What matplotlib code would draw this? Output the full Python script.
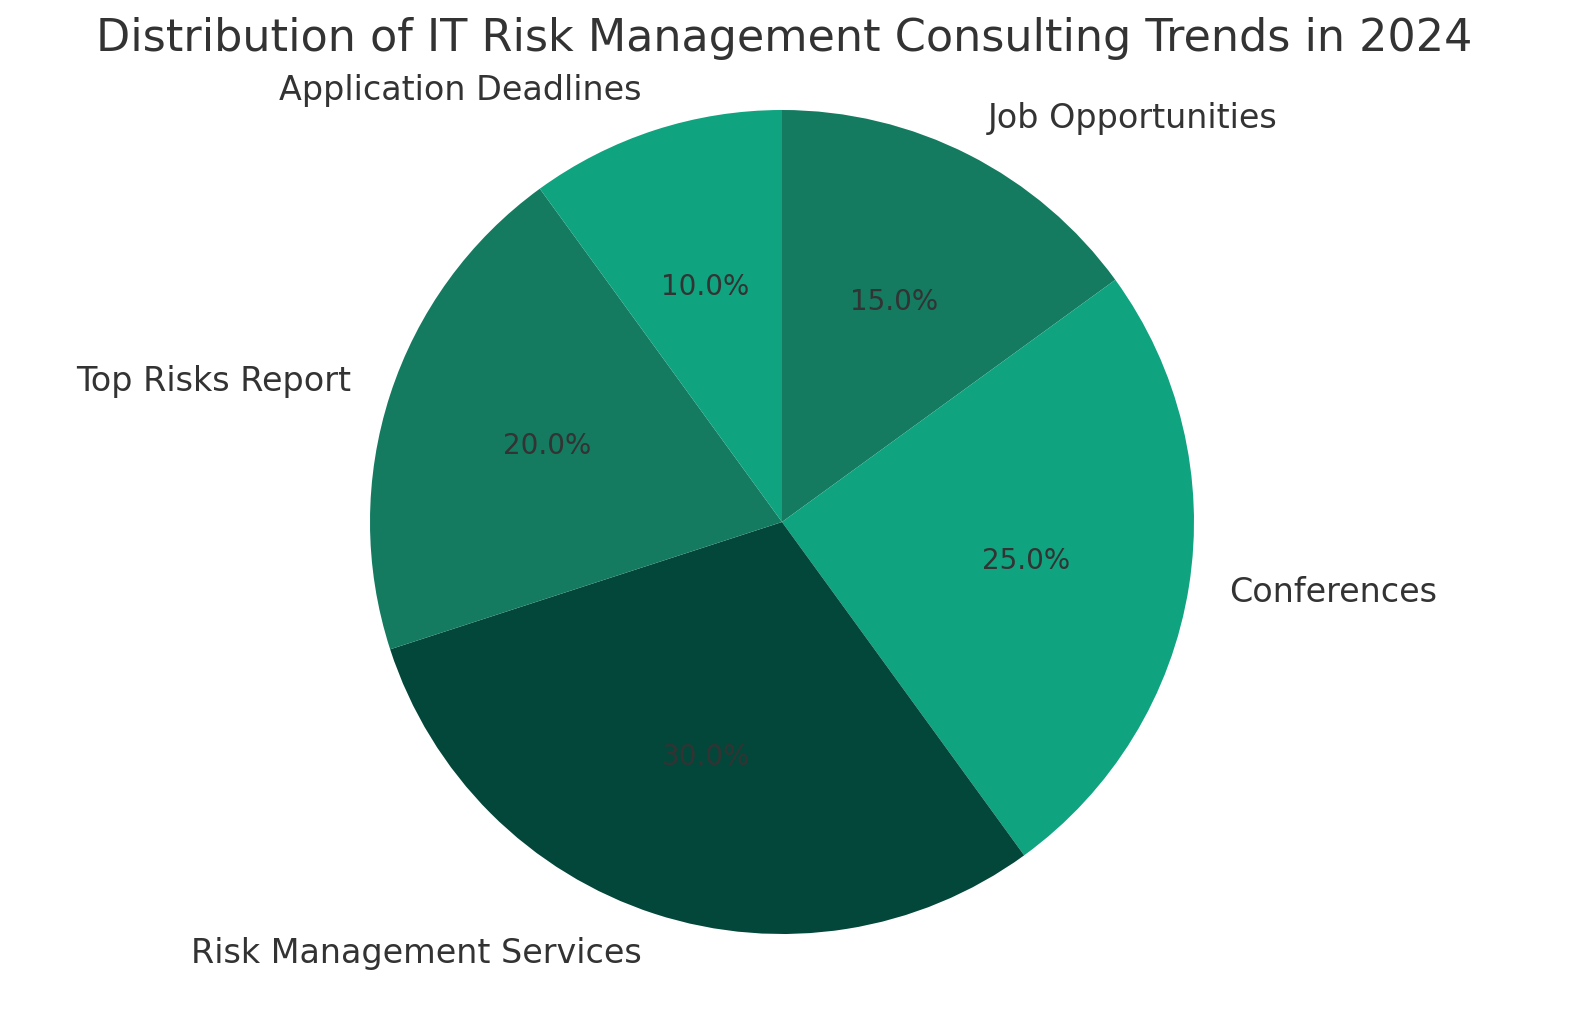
import matplotlib
matplotlib.use("Agg")
from matplotlib import pyplot as plt

# Slice data, clockwise from the top
labels = ["Job Opportunities", "Conferences", "Risk Management Services",
          "Top Risks Report", "Application Deadlines"]
shares = [15, 25, 30, 20, 10]
colors = ["#147a60", "#10a37f", "#03473a", "#147a60", "#10a37f"]

W, H = 1589, 1014
cx, cy, r = 782, 522, 412  # pie centre and radius in pixels

plt.rcParams['text.color'] = '#333333'
fig = plt.figure(figsize=(W / 100, H / 100), dpi=100)
ax = fig.add_axes([0, (H - cy - r) / H, 2 * cx / W, 2 * r / H])
wedges, texts, autotexts = ax.pie(shares, labels=labels, colors=colors,
                                  autopct='%1.1f%%', startangle=90,
                                  counterclock=False,
                                  textprops={'fontsize': 24})
for t in autotexts:
    t.set_fontsize(20)
    t.set_color('#333333')
ax.set_aspect('auto')
ax.set_xlim(-cx / r, cx / r)
ax.set_ylim(-1, 1)
fig.text(784 / W, 1 - 38 / H,
         "Distribution of IT Risk Management Consulting Trends in 2024",
         fontsize=32, ha='center', va='center')
plt.savefig("out.png")
